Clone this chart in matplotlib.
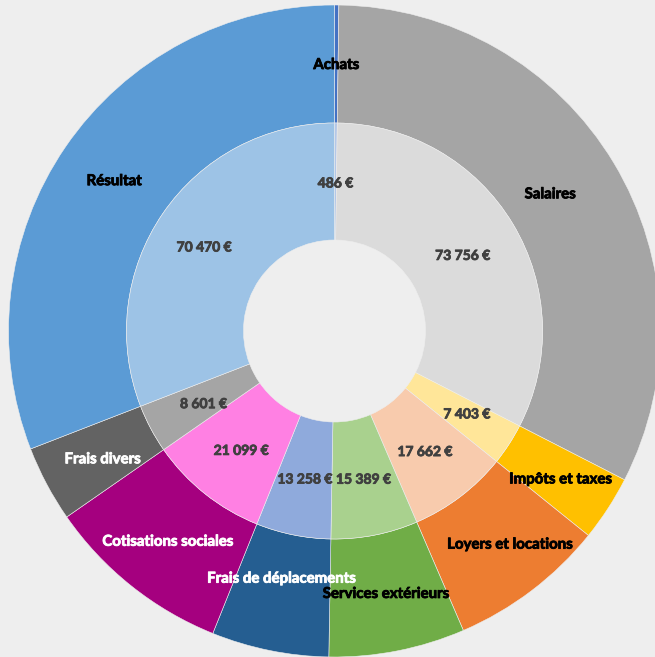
import numpy as np
import matplotlib
matplotlib.use("Agg")
import matplotlib.pyplot as plt
import matplotlib.patheffects as pe

categories = ["Achats", "Salaires", "Impôts et taxes", "Loyers et locations",
              "Services extérieurs", "Frais de déplacements", "Cotisations sociales",
              "Frais divers", "Résultat"]
values = [486, 73756, 7403, 17662, 15389, 13258, 21099, 8601, 70470]
value_labels = ["486 €", "73 756 €", "7 403 €", "17 662 €", "15 389 €",
                "13 258 €", "21 099 €", "8 601 €", "70 470 €"]

outer_colors = ["#4472C4", "#A5A5A5", "#FFC000", "#ED7D31", "#70AD47",
                "#255E91", "#A5007F", "#636363", "#5B9BD5"]
inner_colors = ["#B4C7E7", "#DBDBDB", "#FFE699", "#F8CBAD", "#A9D18E",
                "#8FAADC", "#FF80E3", "#A5A5A5", "#9DC3E6"]
outer_text_colors = ["black", "black", "black", "black", "black",
                     "white", "white", "white", "black"]
# small label nudges (pixels) mimicking the original label placement
outer_nudge = [(0, -1), (-13, -1), (2, -3), (14, -1), (0, -1),
               (0, 14), (0, -2), (4, -3), (0, -1)]
inner_nudge = [(0, -2), (0, -2), (7, -2), (0, -2), (0, -2),
               (0, -2), (0, -3), (1, -3), (-7, -1)]

W, H = 655, 657
bg = "#EEEEEE"
fig = plt.figure(figsize=(W / 100, H / 100), dpi=100, facecolor=bg)
ax = fig.add_axes([0, 0, 1, 1])
ax.set_facecolor(bg)

cx, cy = 334.5, H - 331
r_out, r_mid, r_in = 326, 208, 91

ax.pie(values, radius=r_out, center=(cx, cy), colors=outer_colors,
       startangle=90, counterclock=False,
       wedgeprops=dict(width=r_out - r_mid, edgecolor=bg, linewidth=0.4))
ax.pie(values, radius=r_mid, center=(cx, cy), colors=inner_colors,
       startangle=90, counterclock=False,
       wedgeprops=dict(width=r_mid - r_in, edgecolor=bg, linewidth=0.4))

total = float(sum(values))
cum = np.cumsum([0] + values[:-1])
font = ["Lato", "DejaVu Sans"]
for i, v in enumerate(values):
    mid_frac = (cum[i] + v / 2) / total
    ang = np.deg2rad(90 - 360 * mid_frac)
    ro = (r_out + r_mid) / 2
    ri = (r_mid + r_in) / 2
    tc = outer_text_colors[i]
    ax.text(cx + ro * np.cos(ang) + outer_nudge[i][0],
            cy + ro * np.sin(ang) + outer_nudge[i][1], categories[i],
            ha="center", va="center", fontsize=10.8, fontweight="bold",
            color=tc, family=font,
            path_effects=[pe.withStroke(linewidth=0.6, foreground=tc)])
    ax.text(cx + ri * np.cos(ang) + inner_nudge[i][0],
            cy + ri * np.sin(ang) + inner_nudge[i][1], value_labels[i],
            ha="center", va="center", fontsize=10, fontweight="bold",
            color="#404040", family=font,
            path_effects=[pe.withStroke(linewidth=0.6, foreground="#404040")])

ax.set_xlim(0, W)
ax.set_ylim(0, H)
ax.set_aspect("equal")
ax.axis("off")
fig.savefig("out.png", dpi=100, facecolor=bg)
